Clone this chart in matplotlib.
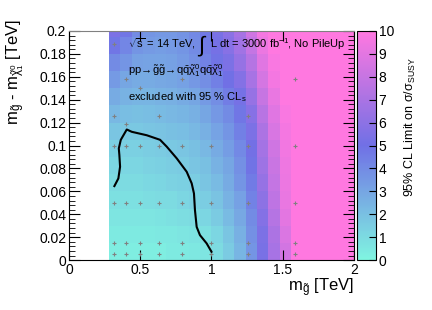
import numpy as np
import matplotlib
matplotlib.use("Agg")
import matplotlib.pyplot as plt
from matplotlib.colors import LinearSegmentedColormap
from matplotlib.ticker import MultipleLocator

plt.rcParams['font.family'] = ['Liberation Sans', 'DejaVu Sans']
plt.rcParams['mathtext.fontset'] = 'custom'
plt.rcParams['mathtext.rm'] = 'Liberation Sans'
plt.rcParams['mathtext.it'] = 'Liberation Sans'
plt.rcParams['mathtext.default'] = 'regular'

# cell grid (gluino mass, mass splitting) in TeV
x_edges = np.arange(0.28, 2.05, 0.08)
y_edges = np.arange(0.0, 0.2101, 0.015)

# 95% CL limit on sigma/sigma_SUSY, rows bottom -> top, 22 columns each
limit = [
    [0.3, 0.3, 0.3, 0.3, 0.3, 0.4, 0.4, 0.5, 0.6, 1.0, 1.6, 2.4, 3.6, 5.3, 6.9, 8.4, 10, 10, 10, 10, 10, 10],
    [0.4, 0.4, 0.4, 0.4, 0.5, 0.5, 0.6, 0.7, 0.8, 1.2, 1.8, 2.6, 3.8, 5.4, 7.1, 8.7, 10, 10, 10, 10, 10, 10],
    [0.6, 0.6, 0.6, 0.6, 0.7, 0.8, 0.9, 1.0, 1.2, 1.6, 2.2, 2.9, 4.0, 5.7, 7.4, 9.0, 10, 10, 10, 10, 10, 10],
    [0.8, 0.8, 0.8, 0.9, 1.0, 1.0, 1.2, 1.3, 1.5, 1.9, 2.5, 3.2, 4.3, 6.0, 7.7, 9.2, 10, 10, 10, 10, 10, 10],
    [1.0, 1.0, 1.0, 1.1, 1.2, 1.3, 1.4, 1.5, 1.8, 2.2, 2.8, 3.6, 4.6, 6.3, 7.9, 9.3, 10, 10, 10, 10, 10, 10],
    [1.2, 1.2, 1.2, 1.3, 1.4, 1.5, 1.6, 1.8, 2.0, 2.5, 3.0, 3.8, 4.9, 6.6, 8.1, 9.4, 10, 10, 10, 10, 10, 10],
    [1.4, 1.4, 1.4, 1.5, 1.6, 1.7, 1.8, 2.0, 2.3, 2.8, 3.3, 4.1, 5.1, 6.8, 8.3, 9.5, 10, 10, 10, 10, 10, 10],
    [1.8, 1.7, 1.7, 1.8, 1.9, 2.0, 2.1, 2.3, 2.6, 3.1, 3.6, 4.4, 5.4, 7.1, 8.6, 9.6, 10, 10, 10, 10, 10, 10],
    [2.3, 2.1, 2.0, 2.1, 2.2, 2.3, 2.4, 2.6, 3.0, 3.5, 4.0, 4.8, 5.8, 7.5, 8.9, 9.8, 10, 10, 10, 10, 10, 10],
    [2.8, 2.5, 2.4, 2.4, 2.5, 2.6, 2.8, 3.0, 3.4, 3.9, 4.5, 5.2, 6.3, 8.0, 9.2, 10, 10, 10, 10, 10, 10, 10],
    [3.4, 3.0, 2.8, 2.8, 2.9, 3.0, 3.2, 3.5, 3.9, 4.4, 5.0, 5.7, 6.9, 8.5, 9.6, 10, 10, 10, 10, 10, 10, 10],
    [4.0, 3.6, 3.2, 3.1, 3.1, 3.2, 3.4, 3.8, 4.3, 4.9, 5.4, 6.3, 7.4, 8.9, 9.8, 10, 10, 10, 10, 10, 10, 10],
    [4.8, 4.2, 3.6, 3.4, 3.3, 3.4, 3.6, 4.0, 4.6, 5.2, 5.8, 6.7, 7.9, 9.3, 10, 10, 10, 10, 10, 10, 10, 10],
    [5.4, 4.8, 4.0, 3.6, 3.5, 3.5, 3.7, 4.1, 4.7, 5.3, 5.9, 6.9, 8.3, 9.6, 10, 10, 10, 10, 10, 10, 10, 10],
]

# simulated signal points
pt_x = [0.316, 0.398, 0.501, 0.631, 0.794, 1.0, 1.259, 1.585] * 4 + \
       [0.316, 0.398, 0.631, 1.259, 0.398, 0.501, 0.794, 1.585, 0.316]
pt_y = [0.005] * 8 + [0.015] * 8 + [0.05] * 8 + [0.1] * 8 + \
       [0.126, 0.119, 0.126, 0.126, 0.158, 0.150, 0.158, 0.158, 0.189]

# exclusion contour
cont_x = [0.318, 0.346, 0.358, 0.353, 0.349, 0.363, 0.405, 0.44, 0.545, 0.639,
          0.686, 0.756, 0.826, 0.861, 0.877, 0.884, 0.896, 0.919, 0.966, 1.0]
cont_y = [0.0646, 0.0713, 0.0815, 0.0917, 0.0975, 0.105, 0.114, 0.112, 0.109, 0.105,
          0.099, 0.0888, 0.0771, 0.067, 0.0582, 0.0437, 0.029, 0.0218, 0.0146, 0.0073]

cmap = LinearSegmentedColormap.from_list(
    'susy', [(0.0, (0.50, 0.96, 0.88)), (0.5, (0.44, 0.44, 0.90)), (1.0, (1.0, 0.47, 0.88))])

fig = plt.figure(figsize=(4.32, 3.10), dpi=100)
ax = fig.add_axes([0.160, 0.161, 0.659, 0.739])
cax = fig.add_axes([0.826, 0.161, 0.044, 0.739])

mesh = ax.pcolormesh(x_edges, y_edges, np.array(limit), cmap=cmap, vmin=0, vmax=10)
ax.plot(pt_x, pt_y, '+', color='#808080', ms=3.5, mew=0.8)
ax.plot(cont_x, cont_y, color='black', lw=1.5)

ax.set_xlim(0, 2)
ax.set_ylim(0, 0.2)
ax.set_xticks([0, 0.5, 1, 1.5, 2])
ax.set_xticklabels(['0', '0.5', '1', '1.5', '2'])
ax.yaxis.set_minor_locator(MultipleLocator(0.004))
ax.set_yticks(np.arange(0, 0.201, 0.02))
ax.set_yticklabels(['0', '0.02', '0.04', '0.06', '0.08', '0.1', '0.12', '0.14', '0.16', '0.18', '0.2'])
ax.tick_params(which='both', direction='in', top=True, right=True, labelsize=10, pad=2)
ax.tick_params(axis='x', which='major', length=7)
ax.tick_params(axis='y', which='major', length=8)
ax.tick_params(axis='y', which='minor', length=4)
ax.spines['top'].set_color('#808080')

fig.text(0.819, 0.06, r'$m_{\tilde{g}}$ [TeV]', ha='right', va='baseline', fontsize=12)
fig.text(0.035, 0.94, r'$m_{\tilde{g}}$ - $m_{\tilde{\chi}^{0}_{1}}$ [TeV]', rotation=90,
         ha='center', va='top', fontsize=12)

ax.text(0.207, 0.943, r'$\sqrt{s}$ = 14 TeV,', transform=ax.transAxes, va='center', fontsize=8)
ax.text(0.448, 0.932, r'$\int$', transform=ax.transAxes, va='center', fontsize=16)
ax.text(0.494, 0.943, r'L dt = 3000 fb$^{-1}$, No PileUp', transform=ax.transAxes,
        va='center', fontsize=8)
ax.text(0.207, 0.825,
        r'pp$\!\rightarrow\!\tilde{g}\tilde{g}\!\rightarrow\! q\bar{q}\tilde{\chi}^{0}_{1}q\bar{q}\tilde{\chi}^{0}_{1}$',
        transform=ax.transAxes, va='center', fontsize=8)
ax.text(0.207, 0.712, r'excluded with 95 % CL$_{s}$',
        transform=ax.transAxes, va='center', fontsize=8)

cb = fig.colorbar(mesh, cax=cax)
cb.set_ticks(range(0, 11))
cax.tick_params(direction='in', length=5, labelsize=10, pad=2)
cb.outline.set_linewidth(0.8)
fig.text(0.95, 0.815, r'95% CL Limit on $\sigma/\sigma_{SUSY}$', rotation=90,
         ha='center', va='top', fontsize=9)

fig.savefig('out.png', dpi=100)
